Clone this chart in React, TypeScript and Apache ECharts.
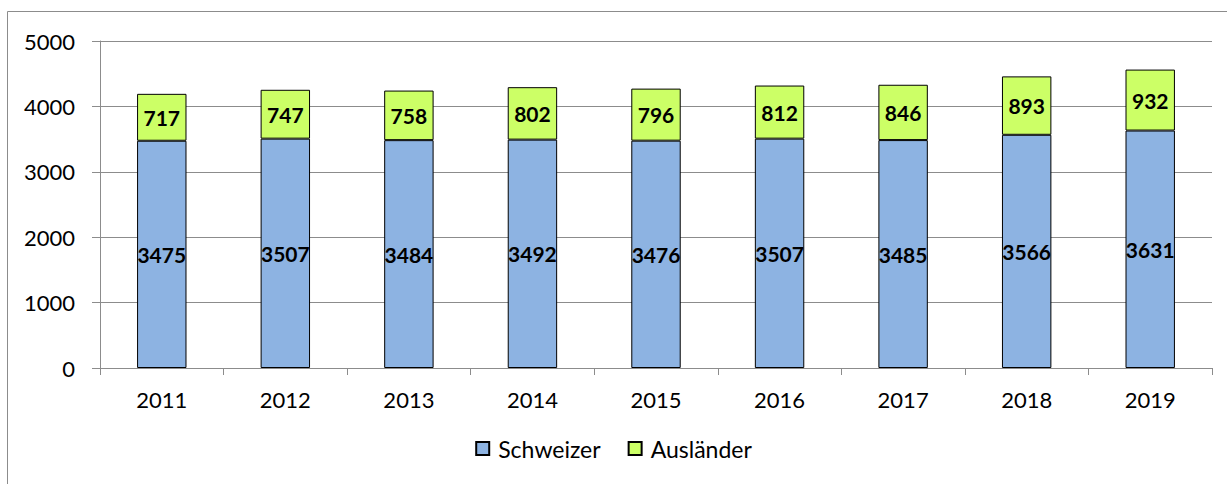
import React, { useEffect, useRef } from "react";
import * as echarts from "echarts";

const years = ["2011", "2012", "2013", "2014", "2015", "2016", "2017", "2018", "2019"];
const schweizer = [3475, 3507, 3484, 3492, 3476, 3507, 3485, 3566, 3631];
const auslaender = [717, 747, 758, 802, 796, 812, 846, 893, 932];
const yTicks = { min: 0, max: 5000, interval: 1000 };

const FONT = "Lato, 'Open Sans', sans-serif";

export default function App() {
  const ref = useRef<HTMLDivElement>(null);
  useEffect(() => {
    if (!ref.current) return;
    const chart = echarts.init(ref.current, undefined, { renderer: "svg" });
    const labelStyle = {
      show: true,
      position: "inside" as const,
      fontFamily: FONT,
      fontWeight: "bold" as const,
      fontSize: 21,
      color: "#000",
    };
    chart.setOption({
      animation: false,
      backgroundColor: "#fff",
      graphic: [
        {
          type: "rect",
          shape: { x: 7.5, y: 11.5, width: 1260, height: 520 },
          style: { fill: "none", stroke: "#8c8c8c", lineWidth: 1 },
          silent: true,
        },
      ],
      grid: { left: 100, right: 15, top: 41, bottom: 116 },
      legend: {
        bottom: 19,
        left: "center",
        icon: "rect",
        itemWidth: 13,
        itemHeight: 13,
        itemGap: 27,
        textStyle: { fontFamily: FONT, fontSize: 23, color: "#000", padding: [0, 0, 0, 4] },
        data: ["Schweizer", "Ausländer"],
      },
      xAxis: {
        type: "category",
        data: years,
        axisLine: { lineStyle: { color: "#8c8c8c", width: 1 } },
        axisTick: { show: true, length: 7, lineStyle: { color: "#8c8c8c" } },
        axisLabel: { fontFamily: FONT, fontSize: 22, color: "#000", margin: 20 },
      },
      yAxis: {
        type: "value",
        min: yTicks.min,
        max: yTicks.max,
        interval: yTicks.interval,
        axisLine: { show: true, lineStyle: { color: "#8c8c8c", width: 1 } },
        axisTick: { show: true, length: 8, lineStyle: { color: "#8c8c8c" } },
        axisLabel: {
          fontFamily: FONT,
          fontSize: 22,
          color: "#000",
          margin: 25,
          formatter: (v: number) => String(v),
        },
        splitLine: { lineStyle: { color: "#8c8c8c", width: 1 } },
      },
      series: [
        {
          name: "Schweizer",
          type: "bar",
          stack: "total",
          data: schweizer,
          barWidth: "40%",
          itemStyle: { color: "#8db3e2", borderColor: "#000", borderWidth: 1 },
          label: labelStyle,
        },
        {
          name: "Ausländer",
          type: "bar",
          stack: "total",
          data: auslaender,
          barWidth: "40%",
          itemStyle: { color: "#ccff66", borderColor: "#000", borderWidth: 1 },
          label: labelStyle,
        },
      ],
    });
    return () => chart.dispose();
  }, []);
  return (
    <div
      ref={ref}
      style={{ position: "fixed", left: 0, top: 0, width: 1227, height: 484 }}
    />
  );
}
